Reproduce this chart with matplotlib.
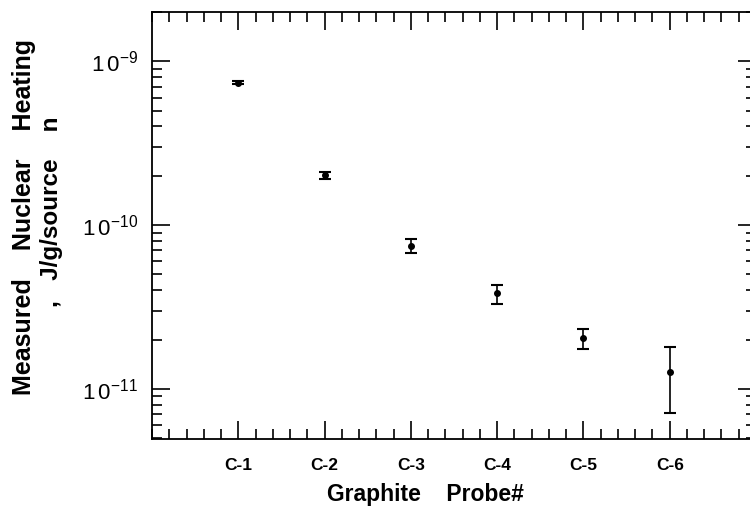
import numpy as np
import matplotlib
matplotlib.use("Agg")
import matplotlib.pyplot as plt
from matplotlib.ticker import LogLocator, FixedLocator, MultipleLocator, NullFormatter

plt.rcParams['font.family'] = ['Liberation Sans', 'DejaVu Sans']
plt.rcParams['mathtext.fontset'] = 'custom'
plt.rcParams['mathtext.rm'] = 'Liberation Sans'

# data
probes = ['C-1', 'C-2', 'C-3', 'C-4', 'C-5', 'C-6']
heating = [7.38e-10, 2.01e-10, 7.5e-11, 3.84e-11, 2.03e-11, 1.26e-11]
err_low = [1.6e-11, 9e-12, 7.4e-12, 5.4e-12, 2.7e-12, 5.5e-12]
err_high = [1.6e-11, 9e-12, 7.2e-12, 4.4e-12, 2.8e-12, 5.5e-12]

x = np.arange(1, len(probes) + 1)

fig = plt.figure(figsize=(7.5, 5.15), dpi=100)
ax = fig.add_axes([152 / 750, 1 - 439 / 515, 604 / 750, 427 / 515])

ax.errorbar(x, heating, yerr=[err_low, err_high], fmt='o', color='black',
            ms=4, capsize=4.5, elinewidth=1.2, capthick=1.5)

ax.set_yscale('log')
ax.set_ylim(4.94e-12, 2.0e-9)
ax.set_xlim(0, 7)

ax.xaxis.set_major_locator(FixedLocator(x))
ax.xaxis.set_minor_locator(MultipleLocator(0.2))
ax.set_xticklabels(probes, fontsize=12.5, fontweight='bold')

ax.yaxis.set_major_locator(FixedLocator([1e-11, 1e-10, 1e-9]))
ax.yaxis.set_minor_locator(LogLocator(base=10, subs=np.arange(2, 10)))
ax.yaxis.set_minor_formatter(NullFormatter())
ax.set_yticklabels([r'$\mathregular{1\,0^{-11}}$', r'$\mathregular{1\,0^{-10}}$',
                    r'$\mathregular{1\,0^{-9}}$'], fontsize=16)

ax.tick_params(which='both', direction='in', top=True, right=True, width=1.2, color='black')
ax.tick_params(which='major', length=13)
ax.tick_params(which='minor', length=7)
ax.tick_params(axis='x', which='major', pad=14)
ax.tick_params(axis='y', which='major', pad=10)

for s in ax.spines.values():
    s.set_linewidth(1.3)

fig.text(425 / 750, 1 - 494 / 515, 'Graphite    Probe#', fontsize=16.5,
         fontweight='bold', ha='center', va='center')
fig.text(24 / 750, 1 - 217 / 515, 'Measured    Nuclear    Heating', rotation=90,
         fontsize=18, fontweight='bold', ha='center', va='center')
fig.text(52 / 750, 1 - 212 / 515, ',   J/g/source    n', rotation=90,
         fontsize=17.5, fontweight='bold', ha='center', va='center')

fig.savefig('out.png', dpi=100)
